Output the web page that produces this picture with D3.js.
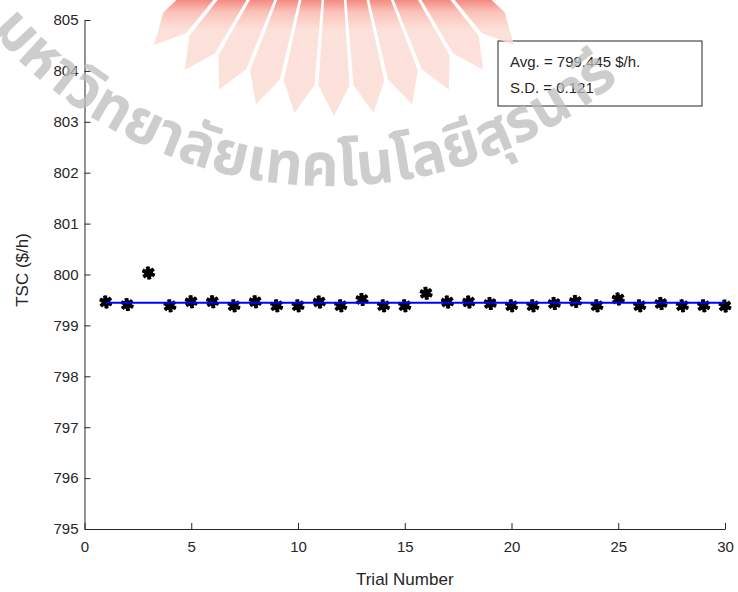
<!DOCTYPE html>
<html>
<head>
<meta charset="utf-8">
<script src="https://cdn.jsdelivr.net/npm/d3@7"></script>
<style>
  body { margin: 0; background: #fff; }
  svg { display: block; font-family: "Liberation Sans", Arial, Helvetica, sans-serif; }
  .axis path, .axis line { stroke: #262626; }
  .axis text { fill: #262626; font-size: 15px; }
</style>
</head>
<body>
<svg width="738" height="592"></svg>
<script>
// trial results
var trials = d3.range(1, 31);
var tsc = [799.46, 799.41, 800.03, 799.385, 799.465, 799.465, 799.385, 799.465, 799.385, 799.385,
           799.46, 799.385, 799.51, 799.385, 799.385, 799.63, 799.46, 799.46, 799.43, 799.385,
           799.385, 799.43, 799.47, 799.385, 799.52, 799.385, 799.43, 799.385, 799.385, 799.38];
var avgValue = 799.445;
var statLines = ["Avg. = 799.445 $/h.", "S.D. = 0.121"];
var xTicks = [0, 5, 10, 15, 20, 25, 30];
var yTicks = d3.range(795, 806);

var svg = d3.select("svg");

var x = d3.scaleLinear().domain([0, 30]).range([84.5, 725]);
var y = d3.scaleLinear().domain([795, 805]).range([529, 20]);

// axes, ticks pointing inward like matlab
svg.append("g")
  .attr("class", "axis")
  .attr("transform", "translate(0," + y(795) + ")")
  .call(d3.axisBottom(x).tickValues(xTicks).tickSizeInner(-6).tickSizeOuter(0).tickPadding(12))
  .selectAll("text").attr("dy", "0.71em");

svg.append("g")
  .attr("class", "axis")
  .attr("transform", "translate(" + x(0) + ",0)")
  .call(d3.axisLeft(y).tickValues(yTicks).tickSizeInner(-6).tickSizeOuter(0).tickPadding(6));

svg.append("text")
  .attr("x", (x(0) + x(30)) / 2)
  .attr("y", 585)
  .attr("text-anchor", "middle")
  .attr("fill", "#262626")
  .style("font-size", "17px")
  .text("Trial Number");

svg.append("text")
  .attr("transform", "translate(28," + 270 + ") rotate(-90)")
  .attr("text-anchor", "middle")
  .attr("fill", "#262626")
  .style("font-size", "17px")
  .text("TSC ($/h)");

// star markers
var pts = svg.append("g").selectAll("g")
  .data(trials)
  .enter().append("g")
  .attr("transform", (d, i) => "translate(" + x(d) + "," + y(tsc[i]) + ")");

pts.append("circle").attr("r", 4.5).attr("fill", "#000");
[0, 45].forEach(function(rot) {
  pts.append("path")
    .attr("d", d3.symbol(d3.symbolAsterisk, 120))
    .attr("transform", "rotate(" + rot + ")")
    .attr("fill", "none")
    .attr("stroke", "#000")
    .attr("stroke-width", 2.6);
});

// average line
svg.append("line")
  .attr("x1", x(1)).attr("x2", x(30))
  .attr("y1", y(avgValue)).attr("y2", y(avgValue))
  .attr("stroke", "#0000ff")
  .attr("stroke-width", 2.2);

// stats box
var box = svg.append("g").attr("transform", "translate(498,41)");
box.append("rect")
  .attr("width", 204).attr("height", 65)
  .attr("fill", "#fff")
  .attr("stroke", "#262626");
box.selectAll("text")
  .data(statLines)
  .enter().append("text")
  .attr("x", 12)
  .attr("y", (d, i) => 26 + i * 26)
  .attr("fill", "#262626")
  .style("font-size", "15px")
  .text(d => d);

// watermark: pink seal rays + arched university name
var wm = svg.append("g").attr("pointer-events", "none");
var grad = svg.append("defs").append("linearGradient")
  .attr("id", "rayfill").attr("gradientUnits", "userSpaceOnUse")
  .attr("x1", 0).attr("y1", 0).attr("x2", 0).attr("y2", 30);
grad.append("stop").attr("offset", 0).attr("stop-color", "#f3776c");
grad.append("stop").attr("offset", 0.4).attr("stop-color", "#f9b8ad");
grad.append("stop").attr("offset", 1).attr("stop-color", "#fcdcd4");

var cx = 334, cy = -148;
var rayAngles = d3.range(-5, 6);
wm.selectAll("path.ray")
  .data(rayAngles)
  .enter().append("path")
  .attr("class", "ray")
  .attr("d", function(k) {
    var rad = Math.PI / 180;
    var a0 = (k * 8.6 - 3.8) * rad, a1 = (k * 8.6 + 3.8) * rad, am = k * 8.6 * rad;
    var p = (r, a) => [cx + r * Math.sin(a), cy + r * Math.cos(a)];
    var pts = [p(120, a0), p(120, a1), p(234, a1), p(264, am), p(234, a0)];
    return "M" + pts.join("L") + "Z";
  })
  .attr("fill", "url(#rayfill)")
  .attr("opacity", 0.85);

var ang = 0.86, R = 448;
wm.append("path")
  .attr("id", "arc")
  .attr("d", "M" + (330 - R * Math.sin(ang)) + "," + (-262 + R * Math.cos(ang)) +
        " A" + R + "," + R + " 0 0,0 " + (330 + R * Math.sin(ang)) + "," + (-262 + R * Math.cos(ang)))
  .attr("fill", "none");

wm.append("text")
  .attr("fill", "#bdbdbd")
  .attr("opacity", 0.75)
  .style("font-family", "'Noto Sans Thai', 'Noto Sans', 'DejaVu Sans', sans-serif")
  .style("font-size", "60px")
  .style("font-weight", "bold")
  .append("textPath")
  .attr("href", "#arc")
  .attr("textLength", 700)
  .attr("lengthAdjust", "spacingAndGlyphs")
  .text("มหาวิทยาลัยเทคโนโลยีสุรนารี");
</script>
</body>
</html>
